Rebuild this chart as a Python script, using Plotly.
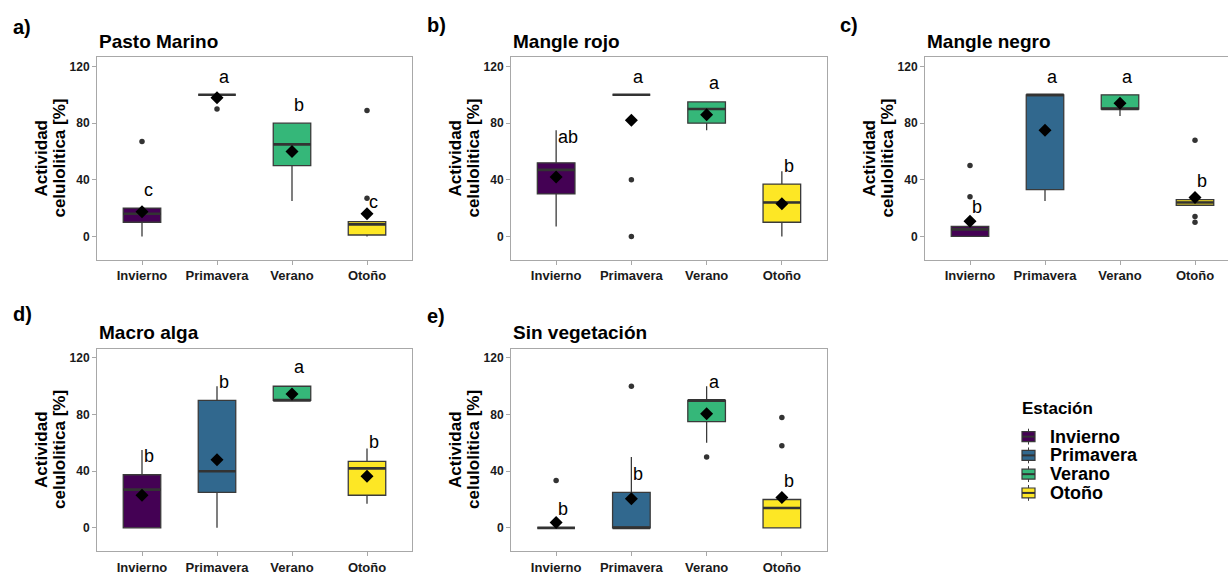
import plotly.graph_objects as go

# ---------------- data ----------------
categories = ["Invierno", "Primavera", "Verano", "Otoño"]
colors = ["#440154", "#31688E", "#35B779", "#FDE725"]

panel_titles = ["Pasto Marino", "Mangle rojo", "Mangle negro", "Macro alga", "Sin vegetación"]
panel_tags = ["a)", "b)", "c)", "d)", "e)"]

q1_vals = [
    [10, 100, 50, 1],
    [30, 100, 80, 10],
    [0, 33, 90, 22],
    [0, 25, 90, 23],
    [0, 0, 75, 0],
]
median_vals = [
    [16, 100, 65, 8.5],
    [47, 100, 90, 24],
    [5, 100, 90, 24],
    [27, 40, 90, 42],
    [0, 0, 90, 14],
]
q3_vals = [
    [20, 100, 80, 10.5],
    [52, 100, 95, 37],
    [7, 100, 100, 26],
    [37.5, 90, 100, 47],
    [0, 25, 90, 20],
]
lower_whisker = [
    [0, 100, 25, 0],
    [7, 100, 75, 0],
    [0, 25, 85, 22],
    [0, 0, 90, 17],
    [0, 0, 60, 0],
]
upper_whisker = [
    [20, 100, 80, 10.5],
    [75, 100, 95, 46],
    [7, 100, 100, 26],
    [55, 100, 100, 56],
    [0, 50, 100, 20],
]
mean_vals = [
    [17.5, 98, 60, 16],
    [42, 82, 86, 23],
    [10.7, 75, 94, 27.5],
    [23, 48, 94.5, 36.5],
    [3.7, 20.5, 80.5, 21.4],
]
outlier_vals = [
    [[67], [90], [], [89, 27]],
    [[], [40, 0], [], []],
    [[50, 28], [], [], [68, 14, 10]],
    [[], [], [], []],
    [[33.5], [100], [50], [78, 58]],
]
letters = [
    ["c", "a", "b", "c"],
    ["ab", "a", "a", "b"],
    ["b", "a", "a", "b"],
    ["b", "b", "a", "b"],
    ["b", "b", "a", "b"],
]
letter_y = [
    [33, 112.5, 93, 24],
    [70, 112.5, 108, 50],
    [21, 112.5, 112.5, 39],
    [50.5, 103, 113.5, 60.5],
    [13, 38, 103, 33],
]
y_ticks = [0, 40, 80, 120]
y_title_lines = ["Actividad", "celulolitica [%]"]
legend_title = "Estación"

# ---------------- layout geometry (pixels) ----------------
W, H = 1228, 575
FONT = "Liberation Sans, Arial, sans-serif"
# (left, right, top, bottom, x_max)
panel_boxes = [
    (97, 412, 58, 263, 4.6),
    (511, 827, 58, 263, 4.6),
    (925, 1228, 58, 263, 4.44),
    (97, 412, 353, 558, 4.6),
    (511, 827, 353, 558, 4.6),
]
tag_pos = [(11, 27), (425, 25), (838, 25), (11, 318), (425, 320)]


def px(x):
    return x / W


def py(y):
    return 1 - y / H


fig = go.Figure()
annotations = []
shapes = []
BOXLINE = "#3a3a3a"
AXCOL = "#a8a8a8"

for p in range(5):
    sfx = "" if p == 0 else str(p + 1)
    xa, ya = "x" + sfx, "y" + sfx
    left, right, top, bottom, xmax = panel_boxes[p]
    for i, cat in enumerate(categories):
        pos = i + 1
        fig.add_trace(go.Box(
            x=[pos], q1=[q1_vals[p][i]], median=[median_vals[p][i]], q3=[q3_vals[p][i]],
            lowerfence=[lower_whisker[p][i]], upperfence=[upper_whisker[p][i]],
            fillcolor=colors[i], line=dict(color=BOXLINE, width=1.3),
            width=0.5, whiskerwidth=0, boxpoints=False, name=cat,
            showlegend=False, hoverinfo="skip", xaxis=xa, yaxis=ya))
        # thicker median line
        fig.add_trace(go.Scatter(
            x=[pos - 0.25, pos + 0.25], y=[median_vals[p][i]] * 2, mode="lines",
            line=dict(color="#333333", width=2.6), showlegend=False,
            hoverinfo="skip", xaxis=xa, yaxis=ya))
        if outlier_vals[p][i]:
            fig.add_trace(go.Scatter(
                x=[pos] * len(outlier_vals[p][i]), y=outlier_vals[p][i], mode="markers",
                marker=dict(color="#333333", size=5.5), showlegend=False,
                hoverinfo="skip", xaxis=xa, yaxis=ya))
        fig.add_trace(go.Scatter(
            x=[pos], y=[mean_vals[p][i]], mode="markers",
            marker=dict(symbol="diamond", color="black", size=10), showlegend=False,
            hoverinfo="skip", xaxis=xa, yaxis=ya))
        annotations.append(dict(
            x=pos, y=letter_y[p][i], xref=xa, yref=ya, text=letters[p][i],
            showarrow=False, xanchor="left", yanchor="middle",
            font=dict(family=FONT, size=18, color="black")))

    axis_common = dict(showline=True, linecolor=AXCOL, linewidth=1, ticks="outside",
                       ticklen=4, tickcolor=AXCOL, tickwidth=1, showgrid=False,
                       zeroline=False, fixedrange=True)
    fig.layout["xaxis" + sfx] = dict(
        domain=[px(left), px(right)], range=[0.4, xmax], anchor=ya,
        tickvals=[1, 2, 3, 4], ticktext=categories, mirror=True,
        tickfont=dict(family=FONT, size=13, color="#1a1a1a", weight="bold"),
        **axis_common)
    fig.layout["yaxis" + sfx] = dict(
        domain=[py(bottom), py(top)], range=[-16.5, 126.5], anchor=xa,
        tickvals=y_ticks, mirror=(p != 2),
        tickfont=dict(family=FONT, size=12, color="#1a1a1a", weight="bold"),
        **axis_common)

    # panel title and tag
    annotations.append(dict(
        x=px(left), y=py(top - 16), xref="paper", yref="paper", text=panel_titles[p],
        showarrow=False, xanchor="left", yanchor="middle",
        font=dict(family=FONT, size=19, color="black", weight="bold")))
    tx, ty = tag_pos[p]
    annotations.append(dict(
        x=px(tx), y=py(ty), xref="paper", yref="paper", text=panel_tags[p],
        showarrow=False, xanchor="left", yanchor="middle",
        font=dict(family=FONT, size=20, color="black", weight="bold")))
    # y-axis title (two lines)
    ymid = (top + bottom) / 2
    for k, off in enumerate([-55, -37]):
        annotations.append(dict(
            x=px(left + off), y=py(ymid), xref="paper", yref="paper",
            text=y_title_lines[k], textangle=-90, showarrow=False,
            xanchor="center", yanchor="middle",
            font=dict(family=FONT, size=17, color="black", weight="bold")))

# ---------------- manual legend ----------------
annotations.append(dict(
    x=px(1020), y=py(414), xref="paper", yref="paper", text=legend_title,
    showarrow=False, xanchor="left", yanchor="middle",
    font=dict(family=FONT, size=17, color="black", weight="bold")))
for i, cat in enumerate(categories):
    cy = 442 + 19 * i
    shapes.append(dict(type="rect", xref="paper", yref="paper",
                       x0=px(1022), x1=px(1035), y0=py(cy + 5), y1=py(cy - 5),
                       fillcolor=colors[i], line=dict(color=BOXLINE, width=1.2)))
    shapes.append(dict(type="line", xref="paper", yref="paper",
                       x0=px(1022), x1=px(1035), y0=py(cy), y1=py(cy),
                       line=dict(color="#333333", width=2)))
    for a, b in [(cy - 8, cy - 5), (cy + 5, cy + 8)]:
        shapes.append(dict(type="line", xref="paper", yref="paper",
                           x0=px(1028.5), x1=px(1028.5), y0=py(a), y1=py(b),
                           line=dict(color=BOXLINE, width=1)))
    annotations.append(dict(
        x=px(1048), y=py(cy), xref="paper", yref="paper", text=cat,
        showarrow=False, xanchor="left", yanchor="middle",
        font=dict(family=FONT, size=18, color="black", weight="bold")))

fig.update_layout(
    width=W, height=H, margin=dict(l=0, r=0, t=0, b=0),
    paper_bgcolor="white", plot_bgcolor="white", boxmode="overlay",
    showlegend=False, annotations=annotations, shapes=shapes,
    font=dict(family=FONT),
)

fig.write_html("out.html")
